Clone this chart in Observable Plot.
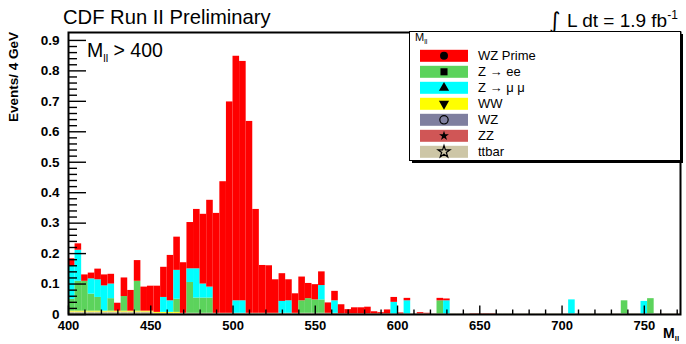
<!DOCTYPE html>
<html>
<head>
<meta charset="utf-8">
<script src="https://cdn.jsdelivr.net/npm/d3@7"></script>
<script src="https://cdn.jsdelivr.net/npm/@observablehq/plot@0.6"></script>
<style>
  html, body { margin: 0; padding: 0; background: #fff; }
  svg { display: block; }
</style>
</head>
<body>
<div id="chart"></div>
<script>
// Dilepton invariant mass, 4 GeV bins from 400 GeV
const binEdges = d3.range(400, 772, 4);

// Stacked contributions per bin (events / 4 GeV), bottom of the stack first
const ttbar = [
  .008,.008,.008,.008,.008,.008,.008,.008,.008,.008,
  .008,.008,.008,.004,.004,.004,.004,.004,.004,.004,
  .004,.004,.004,.004,.004,.004,.004,.004,.004,.004,
  .004,.004,.004,.004,.004,.004,.004,.004,.004,.004,
  .004,.002,.002,.002,.002,.002,.002,.002,.002,.002,
  .002,.002,.002,.002,.002,.002,.002,.002,.002,.002,
  .002,.002,.002,.002,.002,.002,.002,.002,.002,.002,
  .002,.002,.002,.002,.002,.002,.002,.002,.002,.002,
  .002,.002,.002,.002,.002,.002,.002,.002,.002,.002,
  .002,.002,.002
];
const ww = [
  .003,.003,.003,.003,.003,.003,.003,.003,.003,.003,
  .003,.003,.003,.003,.003,.003,.003,0,0,0,
  0,0,0,0,0,0,0,0,0,0,
  0,0,0,0,0,0,0,0,0,0,
  0,0,0,0,0,0,0,0,0,0,
  0,0,0,0,0,0,0,0,0,0,
  0,0,0,0,0,0,0,0,0,0,
  0,0,0,0,0,0,0,0,0,0,
  0,0,0,0,0,0,0,0,0,0,
  0,0,0
];
const zee = [
  .039,.098,.098,.056,.045,0,.041,0,.048,0,
  .098,0,0,0,0,0,.043,0,.101,.050,
  .050,.050,0,0,0,0,0,0,0,0,
  0,0,0,0,0,.041,.048,.044,.044,0,
  0,0,0,0,0,0,0,0,0,0,
  0,0,0,0,0,0,.043,0,0,0,
  0,0,0,0,0,0,0,0,0,0,
  0,0,0,0,0,0,0,0,0,0,
  0,0,0,0,.043,0,0,0,.050,0,
  0,0,0
];
const zmumu = [
  .110,.102,0,.050,.058,.083,.048,0,0,0,
  0,0,0,0,.049,.038,.095,0,.045,.096,
  .046,.036,0,0,0,.041,.041,0,0,0,
  0,0,.039,.041,0,0,0,0,.047,0,
  .041,0,0,0,0,0,0,0,0,.038,
  0,.043,0,0,0,0,0,.043,0,0,
  0,0,0,0,0,0,0,0,0,0,
  0,0,0,0,0,0,.046,0,0,0,
  0,0,0,0,0,0,0,.041,0,0,
  0,0,0
];
const wzPrime = [
  .023,.021,.021,.019,.035,.036,.032,.026,.061,.068,
  .068,.079,.082,.086,.099,.149,.109,.166,.152,.195,
  .229,.285,.328,.432,.694,.803,.786,.630,.341,.157,
  .156,.110,.091,.069,.064,.078,.050,.050,.045,.034,
  .031,.030,.014,.020,.020,.022,.007,.004,.013,.016,
  .003,.008,0,.004,.002,0,.008,.006,0,0,
  0,.001,.001,.001,.001,0,0,0,0,0,
  0,0,0,0,0,0,0,0,0,0,
  0,0,0,0,0,0,0,0,0,0,
  0,0,0
];

// Legend entries, top to bottom
const legendNames = ["WZ Prime", "Z \u2192 ee", "Z \u2192 \u03bc \u03bc", "WW", "WZ", "ZZ", "ttbar"];
const legendColors = ["#ff0000", "#5cd35c", "#00ffff", "#ffff00", "#7f7f9f", "#d05656", "#cdc6a6"];
const legendMarkers = ["circle", "square", "triangleUp", "triangleDown", "openCircle", "star", "openStar"];

// Stack order (bottom to top) of the series drawn as bars
const stackOrder = [
  ["ttbar", ttbar], ["WW", ww], ["Z \u2192 ee", zee], ["Z \u2192 \u03bc \u03bc", zmumu], ["WZ Prime", wzPrime]
];

const xMajor = [400, 450, 500, 550, 600, 650, 700, 750];
const xMinor = d3.range(410, 771, 10).filter(v => v % 50 !== 0);
const yMajor = [0, 0.1, 0.2, 0.3, 0.4, 0.5, 0.6, 0.7, 0.8, 0.9];
const yMinor = d3.range(0.02, 0.92, 0.02).filter(v => Math.abs(v * 10 - Math.round(v * 10)) > 1e-6);

const bins = [];
binEdges.forEach((lo, i) => {
  let base = 0;
  for (const [name, vals] of stackOrder) {
    const v = vals[i];
    if (v > 0) {
      bins.push({lo, hi: lo + 4, y1: base, y2: base + v, series: name});
      base += v;
    }
  }
});

const W = 686, H = 344;
const mL = 68, mR = 6, mT = 32, mB = 30;
const frameW = W - mL - mR, frameH = H - mT - mB;
const xDomain = [400, 772], yDomain = [0, 0.926];
const font = "'Liberation Sans', Arial, Helvetica, sans-serif";

const plot = Plot.plot({
  width: W, height: H,
  marginLeft: mL, marginRight: mR, marginTop: mT, marginBottom: mB,
  x: {domain: xDomain, axis: null},
  y: {domain: yDomain, axis: null},
  color: {domain: legendNames, range: legendColors},
  style: {fontFamily: font, background: "#fff", overflow: "visible"},
  marks: [
    Plot.rect(bins, {x1: "lo", x2: "hi", y1: "y1", y2: "y2", fill: "series"}),
    Plot.frame({stroke: "#000", strokeWidth: 2}),
    // inward tick marks along the bottom and left axes
    Plot.tickX(xMajor, {x: d => d, insetTop: frameH - 8.5, stroke: "#000", strokeWidth: 1.4}),
    Plot.tickX(xMinor, {x: d => d, insetTop: frameH - 4.5, stroke: "#000", strokeWidth: 1.4}),
    Plot.tickY(yMajor, {y: d => d, insetRight: frameW - 18, stroke: "#000", strokeWidth: 1.4}),
    Plot.tickY(yMinor, {y: d => d, insetRight: frameW - 9, stroke: "#000", strokeWidth: 1.4}),
    // tick labels
    Plot.text(xMajor, {x: d => d, y: 0, dy: 11, text: d => String(d), fontSize: 13, fontWeight: "bold", fill: "#000"}),
    Plot.text(yMajor, {x: 400, y: d => d, dx: -9, text: d => d === 0 ? "0" : d.toFixed(1), textAnchor: "end", fontSize: 13.5, fontWeight: "bold", fill: "#000"})
  ]
});
document.getElementById("chart").appendChild(plot);

const svg = d3.select(plot);
const txt = (x, y, s, opts = {}) => svg.append("text")
  .attr("x", x).attr("y", y)
  .attr("font-family", opts.family || font)
  .attr("font-size", opts.size || 13)
  .attr("font-weight", opts.weight || "normal")
  .attr("text-anchor", opts.anchor || "start")
  .attr("fill", "#000")
  .text(s);

// Header texts
txt(63, 24, "CDF Run II Preliminary", {size: 20.2});
txt(549, 28, "\u222B", {size: 22, family: "'DejaVu Sans', sans-serif"});
const lum = txt(567, 27, "L dt = 1.9 fb", {size: 19});
lum.append("tspan").attr("dy", -8).attr("font-size", 12).text("-1");

// Cut label
const cut = txt(87, 57, "M", {size: 19.5});
cut.append("tspan").attr("dy", 5).attr("font-size", 11).text("ll");
cut.append("tspan").attr("dy", -5).text(" > 400");

// Axis titles
svg.append("text")
  .attr("transform", `translate(18,${mT}) rotate(-90)`)
  .attr("font-family", font).attr("font-size", 13.5).attr("font-weight", "bold")
  .attr("text-anchor", "end").attr("fill", "#000").text("Events/ 4 GeV");
const xt = txt(663, 338, "M", {size: 14, weight: "bold"});
xt.append("tspan").attr("dy", 3).attr("font-size", 8).text("ll");

// Legend box with drop shadow
const lg = svg.append("g").attr("text-anchor", "start");
lg.append("rect").attr("x", 412).attr("y", 34).attr("width", 271).attr("height", 129).attr("fill", "#000");
lg.append("rect").attr("x", 409.5).attr("y", 31.5).attr("width", 271).attr("height", 129)
  .attr("fill", "#fff").attr("stroke", "#000").attr("stroke-width", 1);
const hd = lg.append("text").attr("x", 415).attr("y", 41).attr("text-anchor", "start")
  .attr("font-family", font).attr("font-size", 11).attr("fill", "#000").text("M");
hd.append("tspan").attr("dy", 3).attr("font-size", 7).text("ll");

const symPath = {
  circle: [d3.symbolCircle, 50, true],
  square: [d3.symbolSquare, 50, true],
  triangleUp: [d3.symbolTriangle, 45, true],
  triangleDown: [d3.symbolTriangle, 45, true],
  openCircle: [d3.symbolCircle, 55, false],
  star: [d3.symbolStar, 30, true],
  openStar: [d3.symbolStar, 45, false]
};
legendNames.forEach((name, i) => {
  const cy = 55.8 + i * 16;
  lg.append("rect").attr("x", 420).attr("y", cy - 6).attr("width", 48).attr("height", 12).attr("fill", legendColors[i]);
  const [type, size, filled] = symPath[legendMarkers[i]];
  lg.append("path")
    .attr("d", d3.symbol(type, size)())
    .attr("transform", `translate(444,${cy})` + (legendMarkers[i] === "triangleDown" ? " rotate(180)" : ""))
    .attr("fill", filled ? "#000" : "none")
    .attr("stroke", "#000").attr("stroke-width", filled ? 0 : 1.2);
  lg.append("text").attr("x", 478).attr("y", cy + 4.5).attr("text-anchor", "start")
    .attr("font-family", font).attr("font-size", 13).attr("fill", "#000").text(name);
});
</script>
</body>
</html>
